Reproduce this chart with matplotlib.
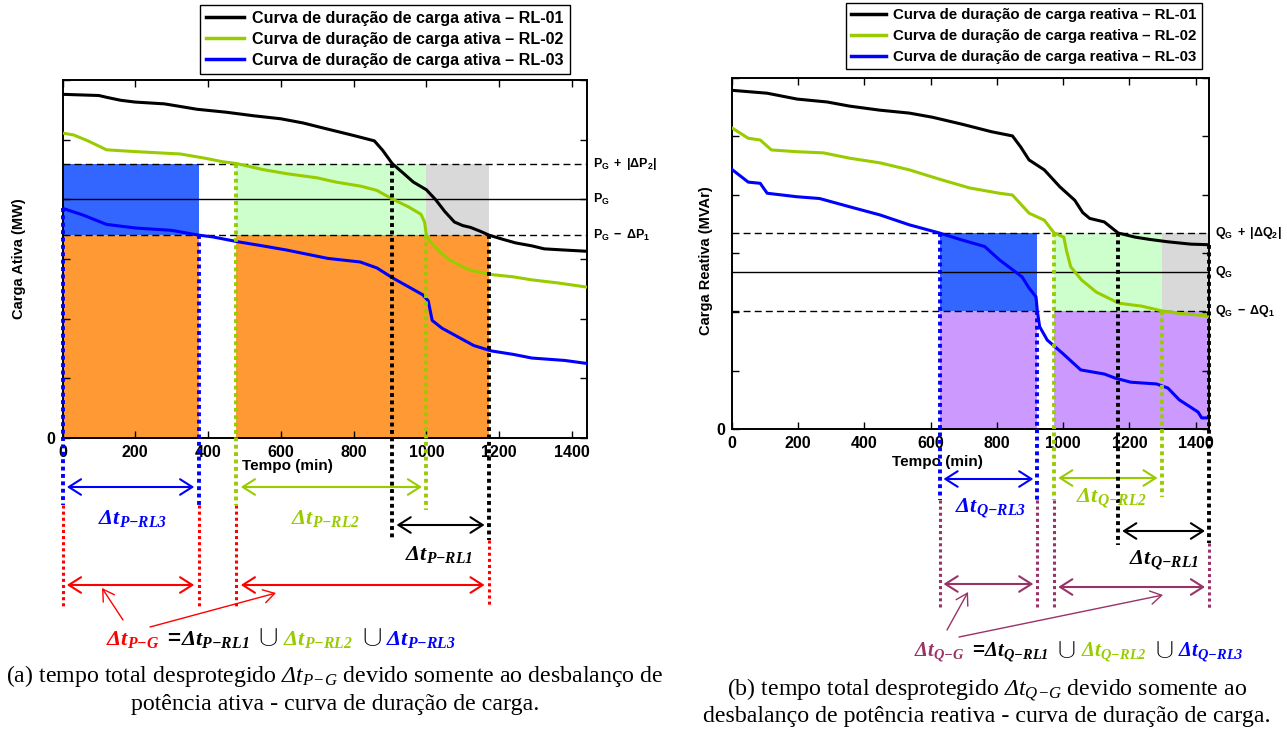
import numpy as np
import matplotlib
matplotlib.use("Agg")
import matplotlib.pyplot as plt
from matplotlib.transforms import blended_transform_factory
from matplotlib.font_manager import FontProperties

# ------------------------------------------------------------------ data
# (a) active power load-duration curves (time in min, load in axis units)
time_p_rl01 = [0, 100, 121, 160, 200, 280, 330, 369, 450, 526, 600, 661, 720, 800, 857, 880, 906,
               940, 964, 1000, 1026, 1050, 1077, 1100, 1121, 1150, 1172, 1210, 1245, 1290, 1324, 1380, 1440]
load_p_rl01 = [5.76, 5.74, 5.71, 5.66, 5.63, 5.60, 5.55, 5.51, 5.46, 5.40, 5.35, 5.28, 5.19, 5.07, 4.98, 4.82, 4.60,
               4.42, 4.29, 4.16, 3.99, 3.80, 3.62, 3.56, 3.53, 3.46, 3.40, 3.33, 3.27, 3.22, 3.17, 3.15, 3.13]
time_p_rl02 = [0, 30, 70, 121, 200, 324, 391, 440, 478, 550, 616, 700, 751, 820, 864, 908, 952, 985, 995,
               1000, 1012, 1040, 1065, 1100, 1121, 1178, 1240, 1290, 1360, 1440]
load_p_rl02 = [5.11, 5.08, 4.98, 4.83, 4.80, 4.76, 4.69, 4.63, 4.60, 4.50, 4.43, 4.36, 4.29, 4.22, 4.15, 4.00, 3.87,
               3.75, 3.62, 3.40, 3.28, 3.10, 2.98, 2.87, 2.81, 2.74, 2.70, 2.65, 2.60, 2.53]
time_p_rl03 = [0, 55, 121, 200, 300, 374, 413, 481, 550, 616, 729, 818, 864, 908, 952, 990, 1005, 1016,
               1043, 1088, 1130, 1178, 1240, 1290, 1380, 1440]
load_p_rl03 = [3.85, 3.74, 3.58, 3.52, 3.48, 3.40, 3.37, 3.29, 3.22, 3.15, 3.01, 2.95, 2.85, 2.68, 2.53, 2.40, 2.30,
               1.97, 1.84, 1.69, 1.55, 1.46, 1.40, 1.34, 1.30, 1.25]

# (b) reactive power load-duration curves
time_q_rl01 = [0, 107, 197, 288, 355, 447, 536, 605, 695, 785, 847, 872, 897, 943, 990, 1035, 1059, 1080, 1124,
               1166, 1217, 1262, 1316, 1385, 1440]
load_q_rl01 = [5.79, 5.74, 5.64, 5.59, 5.52, 5.45, 5.40, 5.33, 5.21, 5.08, 5.01, 4.82, 4.60, 4.43, 4.14, 3.91, 3.70,
               3.60, 3.54, 3.35, 3.28, 3.24, 3.20, 3.16, 3.15]
time_q_rl02 = [0, 50, 86, 120, 197, 277, 355, 447, 536, 627, 718, 808, 847, 897, 943, 973, 1002, 1010, 1023,
               1055, 1100, 1168, 1237, 1297, 1345, 1440]
load_q_rl02 = [5.15, 4.97, 4.94, 4.77, 4.74, 4.72, 4.63, 4.55, 4.43, 4.27, 4.12, 4.03, 4.00, 3.69, 3.57, 3.35, 3.28,
               3.05, 2.77, 2.55, 2.34, 2.15, 2.10, 2.02, 1.98, 1.93]
time_q_rl03 = [0, 50, 86, 107, 197, 265, 355, 447, 536, 627, 695, 763, 808, 841, 876, 897, 918, 922, 929, 952,
               997, 1053, 1124, 1157, 1204, 1282, 1316, 1350, 1407, 1418, 1440]
load_q_rl03 = [4.44, 4.22, 4.20, 4.03, 3.97, 3.94, 3.80, 3.66, 3.49, 3.35, 3.23, 3.12, 2.89, 2.75, 2.60, 2.41, 2.26,
               2.02, 1.75, 1.52, 1.30, 1.01, 0.94, 0.87, 0.80, 0.77, 0.70, 0.50, 0.29, 0.19, 0.19]

# thresholds (lower, generation level, upper)
p_levels = [3.40, 4.00, 4.60]
q_levels = [2.02, 2.68, 3.35]

# unprotected intervals (start, end) in min for RL-01, RL-02, RL-03
p_intervals = [(906, 1172), (478, 1000), (0, 374)]
q_intervals = [(1166, 1440), (973, 1297), (627, 922)]

x_ticks = [0, 200, 400, 600, 800, 1000, 1200, 1400]
y_ticks = [0, 1, 2, 3, 4, 5, 6]
y_ticklabels = ['0', '', '', '', '', '', '']

p_legend = ['Curva de duração de carga ativa – RL-01',
            'Curva de duração de carga ativa – RL-02',
            'Curva de duração de carga ativa – RL-03']
q_legend = ['Curva de duração de carga reativa – RL-01',
            'Curva de duração de carga reativa – RL-02',
            'Curva de duração de carga reativa – RL-03']
p_level_labels = [r'$\mathrm{P_G\ -\ \Delta P_1}$', r'$\mathrm{P_G}$', r'$\mathrm{P_G\ +\ |\Delta P_2|}$']
q_level_labels = [r'$\mathrm{Q_G\ -\ \Delta Q_1}$', r'$\mathrm{Q_G}$', r'$\mathrm{Q_G\ +\ |\Delta Q_2|}$']

# ------------------------------------------------------------------ style
plt.rcParams.update({
    'font.family': 'Liberation Sans',
    'font.weight': 'bold',
    'mathtext.fontset': 'custom',
    'mathtext.rm': 'Liberation Sans:weight=bold',
    'mathtext.bf': 'Liberation Sans:weight=bold',
    'mathtext.it': 'Liberation Serif:style=italic:weight=bold',
    'mathtext.sf': 'Liberation Serif:style=italic:weight=bold',
    'mathtext.cal': 'Liberation Serif:style=italic:weight=normal',
    'mathtext.fallback': 'cm',
})

C_K, C_G, C_B = 'black', '#99cc00', '#0000ff'
CURVE_COLORS = [C_K, C_G, C_B]
F_BLUE, F_GREEN, F_GRAY = '#3366ff', '#ccffcc', '#d9d9d9'

W, H = 1287, 731
fig = plt.figure(figsize=(W / 100, H / 100), dpi=100)


def fx(px):
    return px / W


def fy(py):
    return 1 - py / H


def make_axes(left, top, right, bottom):
    return fig.add_axes([fx(left), fy(bottom), fx(right - left), (bottom - top) / H])


def union(ivals):
    segs = sorted(ivals)
    out = [list(segs[0])]
    for a, b in segs[1:]:
        if a <= out[-1][1]:
            out[-1][1] = max(out[-1][1], b)
        else:
            out.append([a, b])
    return out


def dtlab(letter, sub):
    return r'$\mathsf{\Delta t}_{\mathsf{' + letter + r'{-}' + sub + r'}}$'


def panel(ax, times, loads, levels, level_labels, ivals, ucolor, ufill, legend_labels,
          ylabel, ylabel_xy, xlabel_xy, g):
    lo, mid, hi = levels
    rl1, rl2, rl3 = ivals
    ax.set_xlim(0, 1440)
    ax.set_ylim(0, 6)
    # shaded regions
    ax.fill_between(rl3, lo, hi, color=F_BLUE, lw=0, zorder=1)
    ax.fill_between(rl2, lo, hi, color=F_GREEN, lw=0, zorder=1)
    ax.fill_between((max(rl1[0], rl2[1]), rl1[1]), lo, hi, color=F_GRAY, lw=0, zorder=1)
    useg = union(ivals)
    for a, b in useg:
        ax.fill_between((a, b), 0, lo, color=ufill, lw=0, zorder=1)
    # threshold lines
    ax.axhline(hi, color='k', lw=1, ls=(0, (5, 3)), zorder=2)
    ax.axhline(mid, color='k', lw=1, zorder=2)
    ax.axhline(lo, color='k', lw=1, ls=(0, (5, 3)), zorder=2)
    # curves
    handles = []
    for t, v, c in zip(times, loads, CURVE_COLORS):
        h, = ax.plot(t, v, color=c, lw=2.2, zorder=4, solid_joinstyle='round')
        handles.append(h)
    # axes styling
    ax.set_xticks(x_ticks)
    ax.set_yticks(y_ticks)
    ax.set_yticklabels(y_ticklabels)
    ax.tick_params(direction='in', top=True, right=True, length=5, width=1, labelsize=11.5, pad=5)
    for s in ax.spines.values():
        s.set_linewidth(1.4)
    ax.set_ylabel(ylabel, fontsize=10.5, fontweight='bold')
    ax.yaxis.set_label_coords(*ylabel_xy)
    ax.set_xlabel('Tempo (min)', fontsize=11, fontweight='bold')
    ax.xaxis.set_label_coords(*xlabel_xy)
    # level labels on the right
    tr_r = blended_transform_factory(ax.transAxes, ax.transData)
    for lv, lab in zip(levels, level_labels):
        ax.text(1.012, lv, lab, transform=tr_r, fontsize=9, ha='left', va='center', clip_on=False)
    # legend
    lg = g['legend']
    leg = ax.legend(handles, legend_labels, loc='upper left',
                    bbox_to_anchor=(fx(lg['box'][0]), fy(lg['box'][1])),
                    bbox_transform=fig.transFigure, fancybox=False, edgecolor='black', framealpha=1,
                    prop=FontProperties(family='Liberation Sans', weight='bold', size=lg['size']),
                    handlelength=lg['hl'], handletextpad=0.5, labelspacing=lg['ls'], borderpad=0.35,
                    borderaxespad=0)
    leg.get_frame().set_linewidth(1)
    for lh in leg.get_lines():
        lh.set_linewidth(2.5)

    blend = blended_transform_factory(ax.transData, fig.transFigure)

    def data_to_fig_y(v):
        return fig.transFigure.inverted().transform(ax.transData.transform((0, v)))[1]

    # coloured dotted verticals from the curve down below the axis
    bottoms = {}
    for k, ((a, b), c) in enumerate(zip(ivals, CURVE_COLORS)):
        for j, tt in enumerate((a, b)):
            top = float(np.clip(np.interp(tt, times[k], loads[k]), lo, hi))
            yb = fy(g['dot_bottom'][k][j])
            bottoms[tt] = g['dot_bottom'][k][j]
            ax.plot([tt, tt], [data_to_fig_y(top), yb], transform=blend, clip_on=False,
                    color=c, lw=2.8, ls=(0, (1.0, 0.9)), zorder=6)
    # union-coloured dotted continuation
    for a, b in useg:
        for tt in (a, b):
            ax.plot([tt, tt], [fy(bottoms[tt]), fy(g['union_bottom'])], transform=blend, clip_on=False,
                    color=ucolor, lw=2.2, ls=(0, (1.0, 1.0)), zorder=6)
    # double arrows
    ins = 12
    aprops = dict(arrowstyle='<->,head_length=0.55,head_width=0.35', lw=1.5, shrinkA=0, shrinkB=0,
                  mutation_scale=16)
    for k, ((a, b), c) in enumerate(zip(ivals, CURVE_COLORS)):
        y = fy(g['arrow_y'][k])
        ax.annotate('', xy=(b - ins, y), xytext=(a + ins, y), xycoords=blend, textcoords=blend,
                    arrowprops=dict(color=c, **aprops), annotation_clip=False)
    for (a, b), yy in zip(useg, g['union_arrow_y']):
        y = fy(yy)
        ax.annotate('', xy=(b - ins, y), xytext=(a + ins, y), xycoords=blend, textcoords=blend,
                    arrowprops=dict(color=ucolor, **aprops), annotation_clip=False)
    # interval labels
    letter = g['letter']
    for k, c in enumerate(CURVE_COLORS):
        x0, yb = g['label_pos'][k]
        fig.text(fx(x0), fy(yb), dtlab(letter, 'RL%d' % (k + 1)), color=c, fontsize=16,
                 ha='left', va='baseline')
    # pointer arrows from the equation to the union arrows
    for (x1, y1), (x2, y2) in g['pointers']:
        ax.annotate('', xy=(x2, H - y2), xytext=(x1, H - y1), xycoords='figure pixels',
                    textcoords='figure pixels', annotation_clip=False,
                    arrowprops=dict(arrowstyle='->,head_length=0.5,head_width=0.3', lw=1.0,
                                    color=ucolor, shrinkA=0, shrinkB=0, mutation_scale=16))
    # equation, built piece by piece
    fs = g['eq_size']
    pieces = [(dtlab(letter, 'G'), ucolor, fs),
              (r'$=\!\mathsf{\Delta t}_{\mathsf{' + letter + r'{-}RL1}}$', 'black', fs),
              (r'$\cup$', 'black', fs * 1.3),
              (dtlab(letter, 'RL2'), C_G, fs),
              (r'$\cup$', 'black', fs * 1.3),
              (dtlab(letter, 'RL3'), C_B, fs)]
    gaps = [4, 9, 5, 9, 4]
    renderer = fig.canvas.get_renderer()
    xcur = g['eq_pos'][0]
    for i, (txt, c, s) in enumerate(pieces):
        t = fig.text(fx(xcur), fy(g['eq_pos'][1]), txt, color=c, fontsize=s, ha='left', va='baseline')
        bb = t.get_window_extent(renderer)
        if i < len(gaps):
            xcur = bb.x1 + gaps[i]


axL = make_axes(62.5, 80, 586.5, 438)
axR = make_axes(731.7, 78, 1209, 429)

geomL = dict(letter='P',
             dot_bottom=[(538, 540), (505, 510), (505, 505)],
             union_bottom=607,
             arrow_y=[525, 487, 487],
             union_arrow_y=[585, 585],
             label_pos=[(405, 560), (291, 524), (98, 524)],
             pointers=[((123, 620), (102, 588)), ((150, 627), (276, 593))],
             eq_pos=(106, 645), eq_size=16.2,
             legend=dict(box=(200, 5), size=11.6, hl=2.4, ls=0.38))
geomR = dict(letter='Q',
             dot_bottom=[(545, 543), (500, 497), (500, 500)],
             union_bottom=608,
             arrow_y=[531, 478, 479],
             union_arrow_y=[584, 587],
             label_pos=[(1129, 565), (1076, 503), (955, 513)],
             pointers=[((947, 630), (968, 592)), ((959, 637), (1163, 595))],
             eq_pos=(914, 657), eq_size=14.8,
             legend=dict(box=(846, 3), size=10.8, hl=2.3, ls=0.45))

panel(axL, [time_p_rl01, time_p_rl02, time_p_rl03], [load_p_rl01, load_p_rl02, load_p_rl03],
      p_levels, p_level_labels, p_intervals, '#ff0000', '#ff9933', p_legend,
      'Carga Ativa (MW)', (-0.069, 0.5), (0.43, -0.06), geomL)
panel(axR, [time_q_rl01, time_q_rl02, time_q_rl03], [load_q_rl01, load_q_rl02, load_q_rl03],
      q_levels, q_level_labels, q_intervals, '#993366', '#cc99ff', q_legend,
      'Carga Reativa (MVAr)', (-0.040, 0.48), (0.43, -0.074), geomR)

# captions
cap = dict(family='Liberation Serif', fontweight='normal', fontsize=17.2, ha='center', va='baseline')
fig.text(fx(335), fy(682), r'(a) tempo total desprotegido $\mathcal{\Delta t}_{\mathcal{P{-}G}}$ '
         'devido somente ao desbalanço de', **cap)
fig.text(fx(335), fy(710), 'potência ativa - curva de duração de carga.', **cap)
fig.text(fx(987), fy(695), r'(b) tempo total desprotegido $\mathcal{\Delta t}_{\mathcal{Q{-}G}}$ '
         'devido somente ao', **cap)
fig.text(fx(987), fy(722), 'desbalanço de potência reativa - curva de duração de carga.', **cap)

fig.savefig('out.png', dpi=100)
